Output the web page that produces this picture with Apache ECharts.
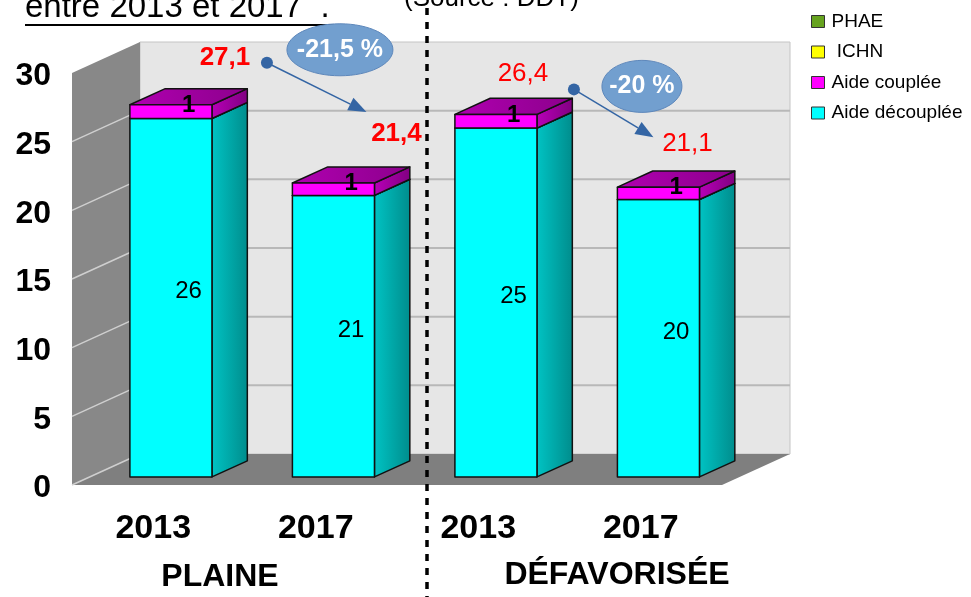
<html style="height: 100%">
<head>
	<meta charset="utf-8">
	<script type="text/javascript" src="https://cdn.jsdelivr.net/npm/echarts@6/dist/echarts.min.js"></script>
</head>

<body style="height: 100%; margin: 0; background: #fff">
	<div id="container" style="height:597px;width:971px"></div>
</body>

<script type="text/javascript">
	var dom = document.getElementById("container");
	var myChart = echarts.init(dom);

	// données (source : DDT)
	let categories = ['2013', '2017', '2013', '2017'];
	let groupNames = ['PLAINE', 'DÉFAVORISÉE'];
	let decouplee = [26.1, 20.5, 25.4, 20.2];
	let couplee = [1.0, 0.9, 1.0, 0.9];
	let ichn = [0, 0, 0, 0];
	let phae = [0, 0, 0, 0];
	let totals = [27.1, 21.4, 26.4, 21.1];
	let evolFrom = [0, 2];
	let evolTo = [1, 3];
	let evolText = ['-21,5 %', '-20 %'];

	// réglages de dessin (pseudo 3D)
	const FONT = 'Liberation Sans';
	const WALL_DX = 68, WALL_DY = -31;   // profondeur des murs
	const F0 = 0.26, F1 = 0.78;          // position des barres dans la profondeur
	const BAR_RATIO = 0.505;
	const Y_MAX = 30, Y_STEP = 5;
	// décalage des étiquettes de total par rapport au haut de la barre
	const totalOffsets = [[54, -47], [63, -49], [27, -41], [29, -43]];
	const totalWeights = ['bold', 'bold', 'normal', 'normal'];
	// flèches et bulles
	const dotOffsets = [[42, 5], [51, 16]];
	const tipOffsets = [[-30, -22], [-34, -7]];
	const bubbleOffsets = [[73, -13], [68, -3]];
	const bubbleSizes = [[53, 26], [40, 26]];

	function grad(c1, c2) {
		return new echarts.graphic.LinearGradient(0, 0, 1, 0, [
			{ offset: 0, color: c1 }, { offset: 1, color: c2 }
		]);
	}

	function fmt(v) {
		return ('' + v.toFixed(1)).replace('.', ',');
	}

	// haut-centre de la face avant d'une barre
	function barTop(api, i, v) {
		var p = api.coord([i, v]);
		return [p[0] + WALL_DX * F0, p[1] + WALL_DY * F0];
	}

	function renderWalls(params, api) {
		var bw = api.size([1, 0])[0];
		var n = categories.length;
		var x0 = api.coord([0, 0])[0] - bw / 2;
		var x1 = api.coord([n - 1, 0])[0] + bw / 2;
		var y0 = api.coord([0, 0])[1];
		var yT = api.coord([0, Y_MAX])[1];
		var children = [];
		// mur du fond
		children.push({
			type: 'polygon',
			shape: { points: [[x0 + WALL_DX, yT + WALL_DY], [x1 + WALL_DX, yT + WALL_DY], [x1 + WALL_DX, y0 + WALL_DY], [x0 + WALL_DX, y0 + WALL_DY]] },
			style: { fill: '#e6e6e6', stroke: '#c4c4c4', lineWidth: 1 }
		});
		// mur de gauche
		children.push({
			type: 'polygon',
			shape: { points: [[x0, yT], [x0 + WALL_DX, yT + WALL_DY], [x0 + WALL_DX, y0 + WALL_DY], [x0, y0]] },
			style: { fill: '#888888' }
		});
		// sol
		children.push({
			type: 'polygon',
			shape: { points: [[x0, y0], [x1, y0], [x1 + WALL_DX, y0 + WALL_DY], [x0 + WALL_DX, y0 + WALL_DY]] },
			style: { fill: '#7f7f7f' }
		});
		for (var v = 0; v <= Y_MAX; v += Y_STEP) {
			var y = api.coord([0, v])[1];
			if (v > 0 && v < Y_MAX) {
				children.push({
					type: 'line',
					shape: { x1: x0 + WALL_DX, y1: y + WALL_DY, x2: x1 + WALL_DX, y2: y + WALL_DY },
					style: { stroke: '#b8b8b8', lineWidth: 2 }
				});
			}
			if (v < Y_MAX) {
				children.push({
					type: 'line',
					shape: { x1: x0, y1: y, x2: x0 + WALL_DX, y2: y + WALL_DY },
					style: { stroke: '#cfcfcf', lineWidth: 1.5 }
				});
			}
		}
		return { type: 'group', children: children };
	}

	function boxRenderer(front, side1, side2, top1, top2, labelWeight) {
		return function (params, api) {
			var i = api.value(0), base = api.value(1), val = api.value(2);
			if (!val) return;
			var bw = api.size([1, 0])[0];
			var w = bw * BAR_RATIO;
			var pb = barTop(api, i, base);
			var pt = barTop(api, i, base + val);
			var dx = WALL_DX * (F1 - F0), dy = WALL_DY * (F1 - F0);
			var xl = pb[0] - w / 2, xr = pb[0] + w / 2;
			var yb = pb[1], yt = pt[1];
			var edge = { stroke: '#111', lineWidth: 1.5, lineJoin: 'round' };
			return {
				type: 'group',
				children: [
					{ type: 'polygon', shape: { points: [[xr, yb], [xr + dx, yb + dy], [xr + dx, yt + dy], [xr, yt]] },
						style: Object.assign({ fill: grad(side1, side2) }, edge) },
					{ type: 'polygon', shape: { points: [[xl, yt], [xr, yt], [xr + dx, yt + dy], [xl + dx, yt + dy]] },
						style: Object.assign({ fill: grad(top1, top2) }, edge) },
					{ type: 'rect', shape: { x: xl, y: yt, width: w, height: yb - yt },
						style: Object.assign({ fill: front }, edge) },
					{ type: 'text', style: {
						text: '' + Math.round(val), x: pb[0] + dx / 2, y: (yb + yt) / 2 + dy / 2 + 2,
						align: 'center', verticalAlign: 'middle', fill: '#000',
						fontSize: 24, fontWeight: labelWeight, fontFamily: FONT } }
				]
			};
		};
	}

	function renderTotal(params, api) {
		var i = api.value(0);
		var p = barTop(api, i, api.value(1));
		var o = totalOffsets[i];
		return {
			type: 'text',
			style: {
				text: fmt(api.value(1)), x: p[0] + o[0], y: p[1] + o[1],
				align: 'center', verticalAlign: 'middle', fill: '#ff0000',
				fontSize: 26, fontWeight: totalWeights[i], fontFamily: FONT,
				textShadowColor: '#3a0000', textShadowOffsetX: 1.5, textShadowOffsetY: 1.5, textShadowBlur: 0
			}
		};
	}

	function labelPos(api, i) {
		var p = barTop(api, i, totals[i]);
		return [p[0] + totalOffsets[i][0], p[1] + totalOffsets[i][1]];
	}

	function renderEvol(params, api) {
		var k = params.dataIndex;
		var a = labelPos(api, evolFrom[k]);
		var b = labelPos(api, evolTo[k]);
		var dot = [a[0] + dotOffsets[k][0], a[1] + dotOffsets[k][1]];
		var tip = [b[0] + tipOffsets[k][0], b[1] + tipOffsets[k][1]];
		var ang = Math.atan2(tip[1] - dot[1], tip[0] - dot[0]);
		var L = 18, H = 7;
		var bx = tip[0] - L * Math.cos(ang), by = tip[1] - L * Math.sin(ang);
		var nx = -Math.sin(ang) * H, ny = Math.cos(ang) * H;
		var c = [dot[0] + bubbleOffsets[k][0], dot[1] + bubbleOffsets[k][1]];
		return {
			type: 'group',
			children: [
				{ type: 'line', shape: { x1: dot[0], y1: dot[1], x2: bx, y2: by }, style: { stroke: '#3465a4', lineWidth: 1.5 } },
				{ type: 'polygon', shape: { points: [tip, [bx + nx, by + ny], [bx - nx, by - ny]] }, style: { fill: '#3465a4' } },
				{ type: 'circle', shape: { cx: dot[0], cy: dot[1], r: 6 }, style: { fill: '#3465a4' } },
				{ type: 'ellipse', shape: { cx: c[0], cy: c[1], rx: bubbleSizes[k][0], ry: bubbleSizes[k][1] },
					style: { fill: '#729fcf', stroke: '#5d87bb', lineWidth: 1 } },
				{ type: 'text', style: { text: evolText[k], x: c[0], y: c[1], align: 'center', verticalAlign: 'middle',
					fill: '#fff', fontSize: 25, fontWeight: 'bold', fontFamily: FONT } }
			]
		};
	}

	let decoupleeData = decouplee.map((v, i) => [i, 0, v]);
	let coupleeData = couplee.map((v, i) => [i, decouplee[i], v]);
	let totalData = totals.map((v, i) => [i, v]);
	let evolData = evolText.map((t, k) => [k]);

	var option = {
		animation: false,
		grid: { left: 72, right: 249, top: 73, bottom: 112 },
		xAxis: {
			type: 'category',
			data: categories,
			axisLine: { show: false },
			axisTick: { show: false },
			axisLabel: { margin: 27, color: '#000', fontSize: 34, fontWeight: 'bold', fontFamily: FONT }
		},
		yAxis: {
			type: 'value', min: 0, max: Y_MAX, interval: Y_STEP,
			axisLine: { show: false }, axisTick: { show: false }, splitLine: { show: false },
			axisLabel: { margin: 21, color: '#000', fontSize: 32, fontWeight: 'bold', fontFamily: FONT, verticalAlign: 'top', lineHeight: 7 }
		},
		legend: {
			orient: 'vertical', left: 806, top: 7, itemGap: 11.5,
			itemWidth: 13, itemHeight: 12, icon: 'rect',
			data: ['PHAE', ' ICHN', 'Aide couplée', 'Aide découplée'],
			itemStyle: { borderColor: '#333', borderWidth: 1 },
			textStyle: { color: '#000', fontSize: 19, fontFamily: FONT, padding: [0, 0, 0, 2] }
		},
		graphic: [
			{ type: 'text', x: 25, y: 7.5, style: { text: 'entre 2013 et 2017  .', verticalAlign: 'middle', fill: '#000', fontSize: 33, fontFamily: FONT } },
			{ type: 'line', shape: { x1: 25, y1: 25, x2: 339, y2: 25 }, style: { stroke: '#000', lineWidth: 2 } },
			{ type: 'text', x: 404, y: -1, style: { text: '(Source : DDT)', verticalAlign: 'middle', fill: '#000', fontSize: 26, fontFamily: FONT } },
			{ type: 'line', z: 10, shape: { x1: 427, y1: 8, x2: 427, y2: 597 }, style: { stroke: '#000', lineWidth: 3.5, lineDash: [7, 7] } },
			{ type: 'text', x: 220, y: 577, style: { text: groupNames[0], align: 'center', verticalAlign: 'middle', fill: '#000', fontSize: 32, fontWeight: 'bold', fontFamily: FONT } },
			{ type: 'text', x: 617, y: 575, style: { text: groupNames[1], align: 'center', verticalAlign: 'middle', fill: '#000', fontSize: 32, fontWeight: 'bold', fontFamily: FONT } }
		],
		series: [
			{ name: 'walls', type: 'custom', renderItem: renderWalls, data: [[0]], silent: true, z: 1 },
			{ name: 'PHAE', type: 'custom', itemStyle: { color: '#66a31f' }, data: phae.map((v, i) => [i, 0, v]), renderItem: function () { return null; } },
			{ name: ' ICHN', type: 'custom', itemStyle: { color: '#ffff00' }, data: ichn.map((v, i) => [i, 0, v]), renderItem: function () { return null; } },
			{ name: 'Aide découplée', type: 'custom', z: 2, itemStyle: { color: '#00ffff' },
				renderItem: boxRenderer('#00ffff', '#00c4c4', '#008c8c', '#00e0e0', '#00b0b0', 'normal'), data: decoupleeData },
			{ name: 'Aide couplée', type: 'custom', z: 3, itemStyle: { color: '#ff00ff' },
				renderItem: boxRenderer('#ff00ff', '#b800b8', '#800080', '#b000b0', '#8c008c', 'bold'), data: coupleeData },
			{ name: 'totals', type: 'custom', z: 4, renderItem: renderTotal, data: totalData },
			{ name: 'evol', type: 'custom', z: 5, renderItem: renderEvol, data: evolData }
		]
	};

	myChart.setOption(option);
</script>

</html>
